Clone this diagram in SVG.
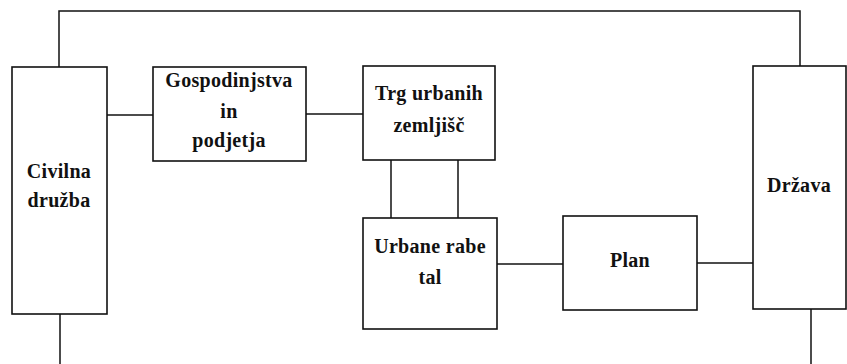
<svg xmlns="http://www.w3.org/2000/svg" width="847" height="364" viewBox="0 0 847 364">
<style>
.box{fill:#fff;stroke:#111;stroke-width:1.6}
.ln{fill:none;stroke:#111;stroke-width:1.5}
text{font-family:"Liberation Serif","Times New Roman",serif;font-weight:bold;font-size:20px;letter-spacing:0.3px;fill:#111;text-anchor:middle}
</style>
<rect width="847" height="364" fill="#fff"/>
<g id="connectors">
<polyline class="ln" points="59,67 59,11 800,11 800,66"/>
<line class="ln" x1="60" y1="314" x2="60" y2="364"/>
<line class="ln" x1="811" y1="309" x2="811" y2="364"/>
<line class="ln" x1="107" y1="115" x2="153" y2="115"/>
<line class="ln" x1="306" y1="114" x2="363" y2="114"/>
<line class="ln" x1="391" y1="160" x2="391" y2="218"/>
<line class="ln" x1="458" y1="160" x2="458" y2="218"/>
<line class="ln" x1="497" y1="264" x2="563" y2="264"/>
<line class="ln" x1="697" y1="263" x2="753" y2="263"/>
</g>
<g id="civilna">
<rect class="box" x="12" y="67" width="95" height="247"/>
<text x="59" y="178">Civilna</text>
<text x="59" y="207">družba</text>
</g>
<g id="gospodinjstva">
<rect class="box" x="153" y="67" width="153" height="94"/>
<text x="229" y="87">Gospodinjstva</text>
<text x="229" y="118">in</text>
<text x="229" y="147">podjetja</text>
</g>
<g id="trg">
<rect class="box" x="363" y="66" width="132" height="94"/>
<text x="429" y="100">Trg urbanih</text>
<text x="429" y="132">zemljišč</text>
</g>
<g id="urbane">
<rect class="box" x="363" y="218" width="134" height="111"/>
<text x="430" y="253">Urbane rabe</text>
<text x="430" y="284">tal</text>
</g>
<g id="plan">
<rect class="box" x="563" y="216" width="134" height="94"/>
<text x="630" y="267">Plan</text>
</g>
<g id="drzava">
<rect class="box" x="753" y="66" width="93" height="243"/>
<text x="799" y="192">Država</text>
</g>
</svg>
